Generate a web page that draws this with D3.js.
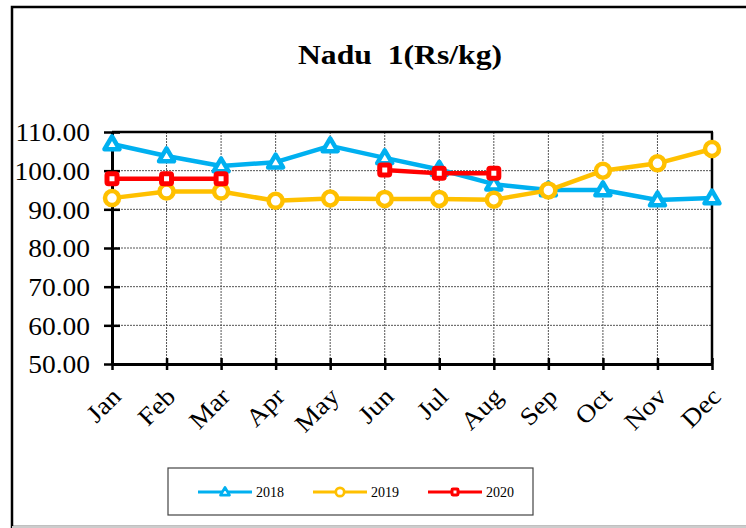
<!DOCTYPE html>
<html>
<head>
<meta charset="utf-8">
<script src="https://cdn.jsdelivr.net/npm/d3@7"></script>
<style>
  body { margin: 0; background: #fff; }
  text { font-family: "Liberation Serif", "Times New Roman", serif; }
</style>
</head>
<body>
<div id="chart"></div>
<script>
// data
var months = ["Jan", "Feb", "Mar", "Apr", "May", "Jun", "Jul", "Aug", "Sep", "Oct", "Nov", "Dec"];
var series2018 = [106.9, 103.8, 101.2, 102.2, 106.4, 103.3, 100.3, 96.5, 95.0, 95.0, 92.4, 92.9];
var series2019 = [92.9, 94.6, 94.6, 92.2, 92.8, 92.7, 92.7, 92.5, 94.9, 100.0, 101.9, 105.6];
var series2020 = [97.9, 97.9, 97.9, null, null, 100.2, 99.3, 99.3, null, null, null, null];
var yTicks = [50, 60, 70, 80, 90, 100, 110];
var seriesNames = ["2018", "2019", "2020"];
var seriesColors = ["#00B0F0", "#FFC000", "#FF0000"];
var seriesShapes = ["triangle", "circle", "square"];

var W = 746, H = 528;
var svg = d3.select("#chart").append("svg")
    .attr("width", W).attr("height", H);

// the reference text is a bit wider than plain Times, stretch it
function stretch(sel, f) {
    sel.each(function(){
        var len = this.getComputedTextLength();
        d3.select(this).attr("textLength", len * f).attr("lengthAdjust", "spacingAndGlyphs");
    });
}

// outer frame
svg.append("rect")
    .attr("x", 12).attr("y", 7)
    .attr("width", 745).attr("height", 520)
    .attr("fill", "#fff")
    .attr("stroke", "#000").attr("stroke-width", 2.5);
svg.append("line")
    .attr("x1", 12).attr("x2", W).attr("y1", 527).attr("y2", 527)
    .attr("stroke", "#ccc").attr("stroke-width", 2);

// title
svg.append("text")
    .attr("x", 400).attr("y", 64)
    .attr("text-anchor", "middle")
    .attr("font-size", "28px").attr("font-weight", "bold")
    .attr("textLength", 204).attr("lengthAdjust", "spacingAndGlyphs")
    .attr("xml:space", "preserve")
    .text("Nadu  1(Rs/kg)");

var x = d3.scalePoint().domain(months).range([112, 712]);
var y = d3.scaleLinear().domain([50, 110]).range([364, 132]);

var g = svg.append("g");

// gridlines
g.selectAll(".hgrid")
    .data(yTicks.filter(function(d){ return d > 50 && d < 110; }))
    .enter().append("line")
    .attr("x1", 112).attr("x2", 712)
    .attr("y1", function(d){ return y(d); })
    .attr("y2", function(d){ return y(d); })
    .attr("stroke", "#555").attr("stroke-width", 1)
    .attr("stroke-dasharray", "2,1");

g.selectAll(".vgrid")
    .data(months.slice(1, 11))
    .enter().append("line")
    .attr("x1", function(d){ return x(d); })
    .attr("x2", function(d){ return x(d); })
    .attr("y1", 132).attr("y2", 364)
    .attr("stroke", "#555").attr("stroke-width", 1)
    .attr("stroke-dasharray", "2,1");

// plot frame top and right
g.append("line").attr("x1", 112).attr("x2", 713).attr("y1", y(110)).attr("y2", y(110))
    .attr("stroke", "#000").attr("stroke-width", 2.5);
g.append("line").attr("x1", 712).attr("x2", 712).attr("y1", y(110)).attr("y2", 364)
    .attr("stroke", "#000").attr("stroke-width", 2.5);

// y axis
var yAxis = d3.axisLeft(y).tickValues(yTicks).tickSize(0)
    .tickFormat(function(d){ return d.toFixed(2); });
var gy = svg.append("g").attr("transform", "translate(112,0)").call(yAxis);
gy.select(".domain").attr("stroke", "#000").attr("stroke-width", 3);
gy.selectAll(".tick line").attr("x1", -8).attr("x2", 8)
    .attr("stroke", "#000").attr("stroke-width", 2.5);
gy.selectAll(".tick text")
    .attr("x", -22).attr("dy", "0.35em")
    .attr("font-size", "25px").attr("fill", "#000")
    .style("font-family", "'Liberation Serif', serif")
    .call(stretch, 1.1);

// x axis
var xAxis = d3.axisBottom(x).tickSize(0);
var gx = svg.append("g").attr("transform", "translate(0,364)").call(xAxis);
gx.select(".domain").attr("stroke", "#000").attr("stroke-width", 3);
gx.selectAll(".tick line").attr("y1", -6).attr("y2", 6)
    .attr("stroke", "#000").attr("stroke-width", 2.5);
gx.selectAll(".tick text")
    .attr("y", 0).attr("dy", 0)
    .attr("text-anchor", "end")
    .attr("transform", "translate(10,34) rotate(-45)")
    .attr("font-size", "25px").attr("fill", "#000")
    .style("font-family", "'Liberation Serif', serif")
    .call(stretch, 1.1);

// marker drawing
function drawMarker(sel, shape, color, cx, cy) {
    if (shape === "triangle") {
        var s = 7.5;
        sel.append("path")
            .attr("d", "M" + cx + "," + (cy - s) + "L" + (cx + s) + "," + (cy + s * 0.7) +
                       "L" + (cx - s) + "," + (cy + s * 0.7) + "Z")
            .attr("fill", "#fff").attr("stroke", color).attr("stroke-width", 4.5)
            .attr("stroke-linejoin", "round");
    } else if (shape === "circle") {
        sel.append("circle").attr("cx", cx).attr("cy", cy).attr("r", 7)
            .attr("fill", "#fff").attr("stroke", color).attr("stroke-width", 4.5);
    } else {
        sel.append("rect").attr("x", cx - 5).attr("y", cy - 5)
            .attr("width", 10).attr("height", 10).attr("rx", 1.5)
            .attr("fill", "#fff").attr("stroke", color).attr("stroke-width", 5);
    }
}

var allSeries = [series2018, series2019, series2020];
var line = d3.line()
    .defined(function(d){ return d != null; })
    .x(function(d, i){ return x(months[i]); })
    .y(function(d){ return y(d); });

allSeries.forEach(function(vals, k){
    var sg = svg.append("g");
    sg.append("path")
        .attr("d", line(vals))
        .attr("fill", "none")
        .attr("stroke", seriesColors[k])
        .attr("stroke-width", 4.5)
        .attr("stroke-linejoin", "round");
    vals.forEach(function(v, i){
        if (v == null) return;
        drawMarker(sg, seriesShapes[k], seriesColors[k], x(months[i]), y(v));
    });
});

// legend
var lg = svg.append("g");
lg.append("rect")
    .attr("x", 168).attr("y", 468).attr("width", 365).attr("height", 47)
    .attr("fill", "#fff").attr("stroke", "#444").attr("stroke-width", 1.2);

var legendX = [198, 313, 428];
seriesNames.forEach(function(name, k){
    var lx = legendX[k], ly = 492;
    lg.append("line")
        .attr("x1", lx).attr("x2", lx + 54).attr("y1", ly).attr("y2", ly)
        .attr("stroke", seriesColors[k]).attr("stroke-width", 3);
    var m = lg.append("g").attr("transform", "translate(" + (lx + 27) + "," + ly + ") scale(0.6)");
    drawMarker(m, seriesShapes[k], seriesColors[k], 0, 0);
    lg.append("text")
        .attr("x", lx + 58).attr("y", ly + 5)
        .attr("font-size", "14px").attr("fill", "#000")
        .text(name);
});
</script>
</body>
</html>
